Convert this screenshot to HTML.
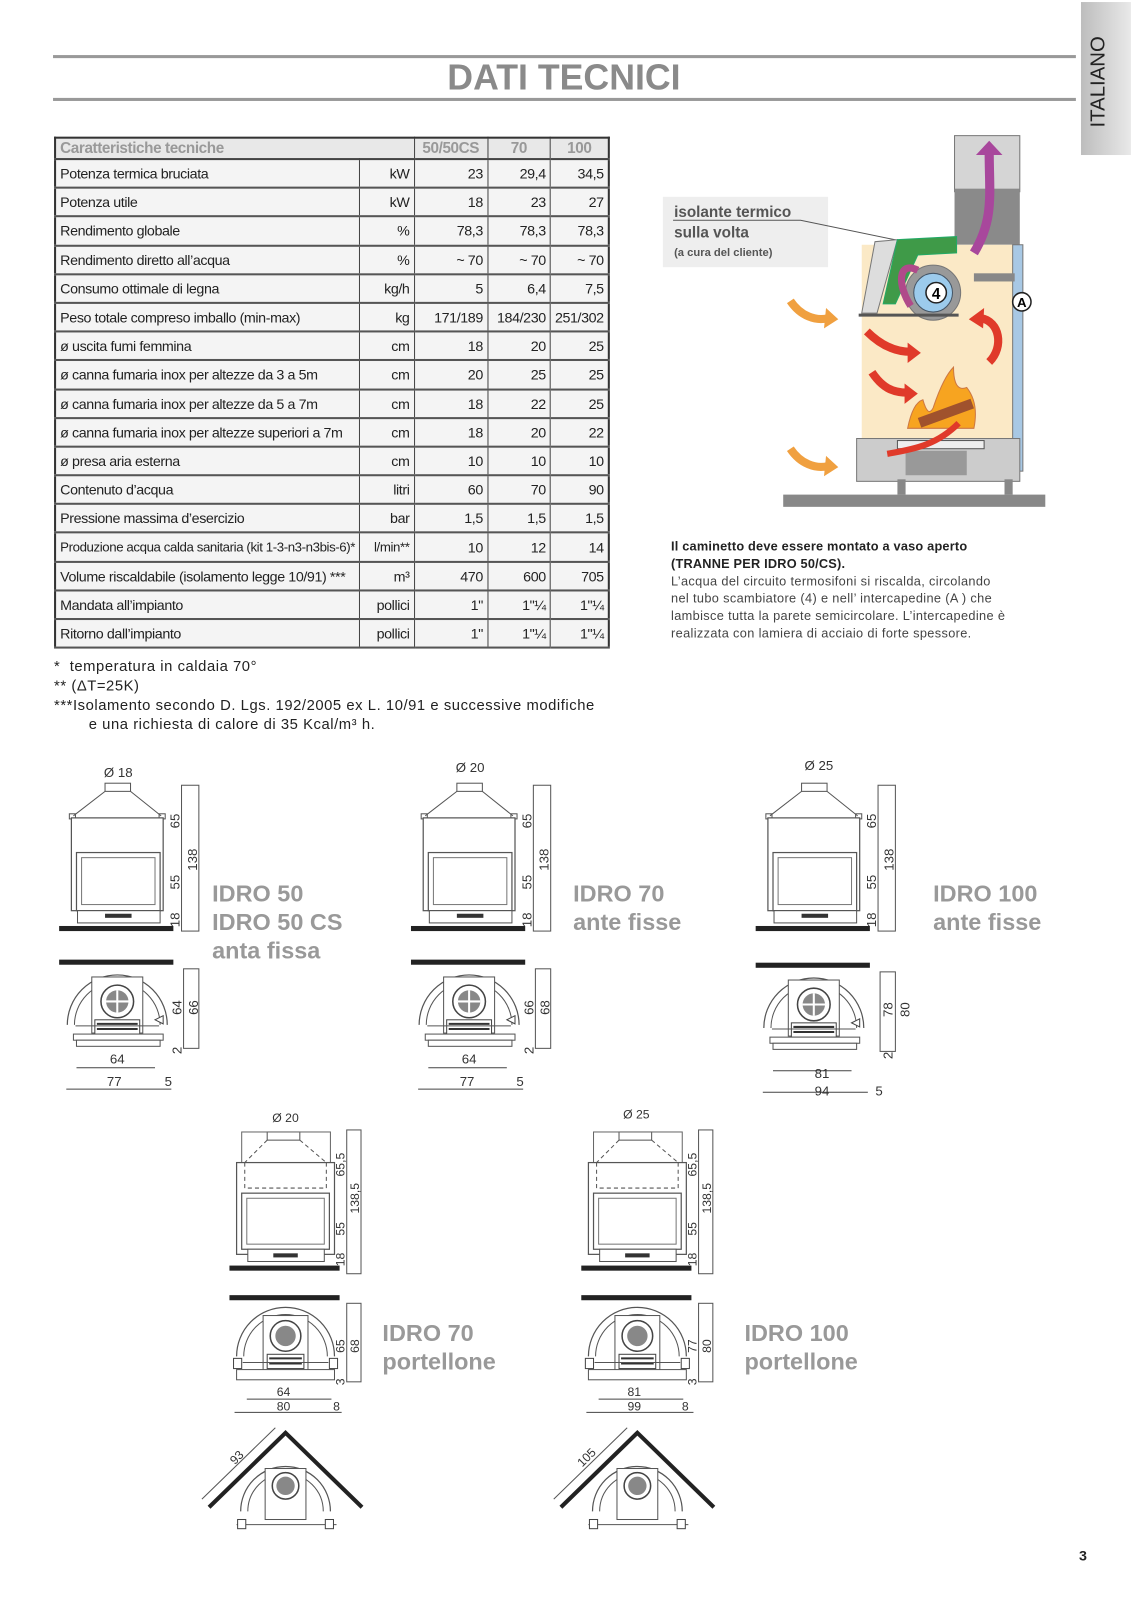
<!DOCTYPE html>
<html><head><meta charset="utf-8"><style>
html,body{margin:0;padding:0;background:#fff;}
#wrap{position:relative;width:1131px;height:1600px;overflow:hidden;}
#pg{position:absolute;left:0;top:0;width:1109px;height:1569px;transform:scale(1.0198);transform-origin:0 0;font-family:"Liberation Sans",sans-serif;}
.abs{position:absolute;}
table.t{position:absolute;left:53px;top:134px;width:545px;border-collapse:collapse;border:2px solid #333;font-size:14px;color:#222;letter-spacing:-0.4px;}
table.t td{height:26.2px;padding:0 4px;border-bottom:2px solid #555;border-left:1px solid #444;white-space:nowrap;background:#f4f4f4;}
table.t tr:first-child td{height:19px;color:#999;font-weight:bold;font-size:15px;border-bottom:2px solid #444;background:#e8e8e8;}
table.t td.n{text-align:right;}
table.t td.c{text-align:center;}
.lbl{position:absolute;font-weight:bold;color:#999;font-size:23px;line-height:28px;}
</style></head><body><div id="wrap"><div id="pg">

<svg class="abs" style="left:0;top:0" width="1109" height="1569" viewBox="0 0 1109 1569" font-family="Liberation Sans, sans-serif">
<defs>
<linearGradient id="tab" x1="0" x2="1"><stop offset="0" stop-color="#bdbdbd"/><stop offset="1" stop-color="#e9e9e9"/></linearGradient>
<g id="front">
 <rect x="103" y="768" width="25" height="8" fill="#fff" stroke="#555" stroke-width="1"/>
 <path d="M103 776 L72 800 M128 776 L158 800" stroke="#555" stroke-width="1" fill="none"/>
 <rect x="68" y="798" width="6" height="5" fill="none" stroke="#555"/><rect x="156" y="798" width="6" height="5" fill="none" stroke="#555"/>
 <rect x="70" y="802" width="90" height="91" fill="#fff" stroke="#555" stroke-width="1.2"/>
 <rect x="75" y="836" width="82" height="57" fill="none" stroke="#555" stroke-width="1.2"/>
 <rect x="80" y="841" width="72" height="46" fill="none" stroke="#777"/>
 <rect x="76" y="893" width="81" height="12" fill="#fff" stroke="#555"/>
 <rect x="103" y="896" width="26" height="4" fill="#333"/>
 <rect x="58" y="908" width="112" height="5" fill="#222"/>
 <rect x="178" y="770" width="17" height="143" fill="none" stroke="#555"/>
</g>
<g id="top">
 <rect x="58" y="941" width="112" height="5" fill="#222"/>
 <path d="M66 1005 A49 49 0 0 1 164 1005" fill="none" stroke="#555" stroke-width="1.2"/>
 <path d="M73 1005 A42 42 0 0 1 157 1005" fill="none" stroke="#555"/>
 <rect x="90" y="958" width="50" height="55" fill="#fff" stroke="#555"/>
 <circle cx="115" cy="982" r="16" fill="#fff" stroke="#444" stroke-width="1.5"/>
 <circle cx="115" cy="982" r="11" fill="#888"/>
 <path d="M115 971 V993 M104 982 H126" stroke="#fff" stroke-width="2"/>
 <rect x="93" y="1000" width="44" height="14" fill="#fff" stroke="#444"/>
 <path d="M95 1004 H135 M95 1009 H135" stroke="#333" stroke-width="2"/>
 <path d="M74 1006 H156" stroke="#555"/>
 <rect x="72" y="1014" width="88" height="6" fill="#fff" stroke="#555"/>
 <rect x="75" y="1020" width="82" height="6" fill="#fff" stroke="#555"/>
 <path d="M152 1000 l8 -4 v8 z" fill="#fff" stroke="#444"/>
 <rect x="180" y="950" width="15" height="78" fill="none" stroke="#555"/>
 <path d="M75 1047 H152 M65 1068 H168" stroke="#444"/>
</g>
<g id="front2">
 <rect x="262" y="1110" width="32" height="8" fill="#fff" stroke="#555"/>
 <rect x="237" y="1110" width="87" height="33" fill="none" stroke="#666"/>
 <path d="M262 1118 L240 1140 M294 1118 L320 1140" stroke="#555" stroke-dasharray="4 3" fill="none"/>
 <rect x="232" y="1140" width="96" height="90" fill="#fff" stroke="#555" stroke-width="1.2"/>
 <path d="M240 1140 V1165 H320 V1140" stroke="#555" stroke-dasharray="4 3" fill="none"/>
 <rect x="237" y="1170" width="86" height="55" fill="none" stroke="#555" stroke-width="1.2"/>
 <rect x="242" y="1175" width="76" height="45" fill="none" stroke="#777"/>
 <rect x="243" y="1225" width="75" height="12" fill="#fff" stroke="#555"/>
 <rect x="268" y="1229" width="24" height="4" fill="#333"/>
 <rect x="225" y="1241" width="108" height="5" fill="#222"/>
 <rect x="340" y="1108" width="14" height="141" fill="none" stroke="#555"/>
</g>
<g id="top2">
 <rect x="225" y="1270" width="108" height="5" fill="#222"/>
 <path d="M232 1330 A48 48 0 0 1 328 1330" fill="none" stroke="#555" stroke-width="1.2"/>
 <path d="M239 1330 A41 41 0 0 1 321 1330" fill="none" stroke="#555"/>
 <rect x="258" y="1290" width="44" height="55" fill="#fff" stroke="#555"/>
 <circle cx="280" cy="1310" r="15" fill="#fff" stroke="#444" stroke-width="1.5"/>
 <circle cx="280" cy="1310" r="10" fill="#888"/>
 <rect x="262" y="1328" width="36" height="14" fill="#fff" stroke="#444"/>
 <path d="M264 1332 H296 M264 1337 H296" stroke="#333" stroke-width="2"/>
 <path d="M238 1336 H322" stroke="#555"/>
 <rect x="229" y="1332" width="8" height="10" fill="#fff" stroke="#444"/><rect x="323" y="1332" width="8" height="10" fill="#fff" stroke="#444"/>
 <rect x="232" y="1343" width="96" height="10" fill="#fff" stroke="#555"/>
 <rect x="340" y="1278" width="14" height="77" fill="none" stroke="#555"/>
 <path d="M242 1372 H325 M230 1385 H335" stroke="#444"/>
</g>
<g id="roof">
 <path d="M205 1478 L280 1405 L355 1478" stroke="#222" stroke-width="4" fill="none"/>
 <path d="M198 1470 L270 1400" stroke="#555"/>
 <path d="M236 1482 A44 44 0 0 1 324 1482" fill="none" stroke="#555" stroke-width="1.2"/>
 <path d="M243 1482 A37 37 0 0 1 317 1482" fill="none" stroke="#555"/>
 <rect x="260" y="1440" width="40" height="50" fill="#fff" stroke="#555"/>
 <circle cx="280" cy="1457" r="13" fill="#fff" stroke="#444" stroke-width="1.5"/>
 <circle cx="280" cy="1457" r="9" fill="#888"/>
 <path d="M232 1495 H330" stroke="#555"/>
 <rect x="233" y="1490" width="8" height="9" fill="#fff" stroke="#444"/><rect x="319" y="1490" width="8" height="9" fill="#fff" stroke="#444"/>
</g>
</defs>

<rect x="52" y="54" width="1003" height="3" fill="#999"/>
<rect x="52" y="96" width="1003" height="3" fill="#999"/>
<text x="553" y="88" text-anchor="middle" font-size="35" font-weight="bold" fill="#8a8a8a">DATI TECNICI</text>
<rect x="1060" y="2" width="49" height="150" fill="url(#tab)"/>
<text transform="translate(1083,125) rotate(-90)" font-size="20" fill="#222">ITALIANO</text>

<rect x="650" y="193" width="162" height="69" fill="#eeeeee"/>
<text x="661" y="213" font-size="15" font-weight="bold" fill="#555">isolante termico</text>
<path d="M660 216 H785 L882 236" stroke="#555" fill="none"/>
<text x="661" y="233" font-size="15" font-weight="bold" fill="#555">sulla volta</text>
<text x="661" y="251" font-size="11" font-weight="bold" fill="#555">(a cura del cliente)</text>
<rect x="936" y="133" width="64" height="55" fill="#d5d5d5" stroke="#777"/>
<rect x="936" y="185" width="64" height="55" fill="#8a8a8a"/>
<rect x="845" y="240" width="150" height="225" fill="#fbe9c6"/>
<rect x="993" y="240" width="10" height="222" fill="#a8c8e4" stroke="#777"/>
<polygon points="858,237 880,235 860,307 845,307" fill="#ddd" stroke="#777"/>
<polygon points="880,235 938,232 938,248 900,250 878,298 866,298" fill="#3f9a48" stroke="#2a6"/>
<circle cx="915" cy="287" r="27" fill="#999" stroke="#777"/>
<circle cx="915" cy="287" r="19" fill="#9ccbec" stroke="#456"/>
<circle cx="918" cy="287" r="10" fill="#fff" stroke="#222" stroke-width="1.5"/>
<text x="918" y="293" text-anchor="middle" font-size="15" font-weight="bold">4</text>
<circle cx="1002" cy="296" r="9" fill="#fff" stroke="#222" stroke-width="1.5"/>
<text x="1002" y="301" text-anchor="middle" font-size="13" font-weight="bold">A</text>
<rect x="955" y="268" width="40" height="8" fill="#888"/>
<path d="M842 309 H940" stroke="#555" stroke-width="3"/>
<rect x="840" y="430" width="160" height="42" fill="#ccc" stroke="#777"/>
<rect x="880" y="432" width="85" height="8" fill="#eee" stroke="#555"/>
<rect x="888" y="442" width="60" height="24" fill="#999"/>
<rect x="768" y="485" width="257" height="12" fill="#888"/>
<rect x="880" y="470" width="8" height="15" fill="#888"/><rect x="985" y="470" width="8" height="15" fill="#888"/>
<path d="M955 248 C975 215 970 190 970 150" stroke="#a8479c" stroke-width="9" fill="none"/>
<polygon points="957,152 970,138 983,152" fill="#a8479c"/>
<path d="M900 265 C880 255 880 280 893 300" stroke="#b04a8a" stroke-width="7" fill="none"/>
<path d="M775 295 C785 310 800 315 812 312" stroke="#f0a040" stroke-width="8" fill="none"/><polygon points="810,302 822,313 808,322" fill="#f0a040"/>
<path d="M775 440 C785 455 800 460 812 457" stroke="#f0a040" stroke-width="8" fill="none"/><polygon points="810,447 822,458 808,467" fill="#f0a040"/>
<path d="M850 325 C865 340 880 345 893 345" stroke="#e03a2a" stroke-width="8" fill="none"/><polygon points="890,336 903,346 890,356" fill="#e03a2a"/>
<path d="M855 365 C865 380 875 385 890 385" stroke="#e03a2a" stroke-width="8" fill="none"/><polygon points="887,376 900,386 887,396" fill="#e03a2a"/>
<path d="M970 355 C985 340 980 315 962 312" stroke="#e03a2a" stroke-width="8" fill="none"/><polygon points="965,302 950,313 964,322" fill="#e03a2a"/>
<path d="M890 420 Q895 395 905 392 Q910 410 915 400 Q925 370 935 360 Q935 385 948 380 Q960 395 955 420 Z" fill="#f7a420" stroke="#c74" />
<rect x="900" y="400" width="55" height="10" fill="#a0522d" transform="rotate(-20 928 405)"/>
<path d="M870 445 C900 440 920 435 940 415" stroke="#e03a2a" stroke-width="6" fill="none"/>

<use href="#front"/><use href="#top"/>
<use href="#front" transform="translate(345,0)"/><use href="#top" transform="translate(345,0)"/>
<use href="#front" transform="translate(683,0)"/><use href="#top" transform="translate(683,3)"/>
<g font-size="13" fill="#333" text-anchor="middle">
<text x="116" y="762">Ø 18</text><text x="461" y="757">Ø 20</text><text x="803" y="755">Ø 25</text>
<g id="vl"><text transform="translate(176,805) rotate(-90)">65</text><text transform="translate(193,843) rotate(-90)">138</text><text transform="translate(176,865) rotate(-90)">55</text><text transform="translate(176,902) rotate(-90)">18</text></g>
<use href="#vl" transform="translate(345,0)"/><use href="#vl" transform="translate(683,0)"/>
<text transform="translate(178,988) rotate(-90)">64</text><text transform="translate(194,988) rotate(-90)">66</text><text transform="translate(178,1030) rotate(-90)">2</text>
<text x="115" y="1043">64</text><text x="112" y="1065">77</text><text x="165" y="1065">5</text>
<text transform="translate(523,988) rotate(-90)">66</text><text transform="translate(539,988) rotate(-90)">68</text><text transform="translate(523,1030) rotate(-90)">2</text>
<text x="460" y="1043">64</text><text x="458" y="1065">77</text><text x="510" y="1065">5</text>
<text transform="translate(875,990) rotate(-90)">78</text><text transform="translate(892,990) rotate(-90)">80</text><text transform="translate(875,1035) rotate(-90)">2</text>
<text x="806" y="1057">81</text><text x="806" y="1074">94</text><text x="862" y="1074">5</text>
</g>

<use href="#front2"/><use href="#top2"/><use href="#roof"/>
<use href="#front2" transform="translate(345,0)"/><use href="#top2" transform="translate(345,0)"/><use href="#roof" transform="translate(345,0)"/>
<g font-size="12" fill="#333" text-anchor="middle">
<text x="280" y="1100">Ø 20</text><text x="624" y="1097">Ø 25</text>
<g id="vl2"><text transform="translate(338,1142) rotate(-90)">65,5</text><text transform="translate(352,1175) rotate(-90)">138,5</text><text transform="translate(338,1205) rotate(-90)">55</text><text transform="translate(338,1235) rotate(-90)">18</text></g>
<use href="#vl2" transform="translate(345,0)"/>
<text transform="translate(338,1320) rotate(-90)">65</text><text transform="translate(352,1320) rotate(-90)">68</text><text transform="translate(338,1355) rotate(-90)">3</text>
<text x="278" y="1369">64</text><text x="278" y="1383">80</text><text x="330" y="1383">8</text>
<text transform="translate(683,1320) rotate(-90)">77</text><text transform="translate(697,1320) rotate(-90)">80</text><text transform="translate(683,1355) rotate(-90)">3</text>
<text x="622" y="1369">81</text><text x="622" y="1383">99</text><text x="672" y="1383">8</text>
<text transform="translate(235,1432) rotate(-45)">93</text><text transform="translate(578,1432) rotate(-45)">105</text>
</g>
<text x="1062" y="1530" font-size="14" font-weight="bold" text-anchor="middle" fill="#222">3</text>
</svg>

<table class="t">
<tr><td colspan="2">Caratteristiche tecniche</td><td class="c">50/50CS</td><td class="c">70</td><td class="c">100</td></tr>
<tr><td style="width:289px">Potenza termica bruciata</td><td class="n" style="width:47px">kW</td><td class="n" style="width:65px">23</td><td class="n" style="width:54px">29,4</td><td class="n">34,5</td></tr>
<tr><td>Potenza utile</td><td class="n">kW</td><td class="n">18</td><td class="n">23</td><td class="n">27</td></tr>
<tr><td>Rendimento globale</td><td class="n">%</td><td class="n">78,3</td><td class="n">78,3</td><td class="n">78,3</td></tr>
<tr><td>Rendimento diretto all’acqua</td><td class="n">%</td><td class="n">~ 70</td><td class="n">~ 70</td><td class="n">~ 70</td></tr>
<tr><td>Consumo ottimale di legna</td><td class="n">kg/h</td><td class="n">5</td><td class="n">6,4</td><td class="n">7,5</td></tr>
<tr><td>Peso totale compreso imballo (min-max)</td><td class="n">kg</td><td class="n">171/189</td><td class="n">184/230</td><td class="n">251/302</td></tr>
<tr><td>ø uscita fumi femmina</td><td class="n">cm</td><td class="n">18</td><td class="n">20</td><td class="n">25</td></tr>
<tr><td>ø canna fumaria inox per altezze da 3 a 5m</td><td class="n">cm</td><td class="n">20</td><td class="n">25</td><td class="n">25</td></tr>
<tr><td>ø canna fumaria inox per altezze da 5 a 7m</td><td class="n">cm</td><td class="n">18</td><td class="n">22</td><td class="n">25</td></tr>
<tr><td>ø canna fumaria inox per altezze superiori a 7m</td><td class="n">cm</td><td class="n">18</td><td class="n">20</td><td class="n">22</td></tr>
<tr><td>ø presa aria esterna</td><td class="n">cm</td><td class="n">10</td><td class="n">10</td><td class="n">10</td></tr>
<tr><td>Contenuto d’acqua</td><td class="n">litri</td><td class="n">60</td><td class="n">70</td><td class="n">90</td></tr>
<tr><td>Pressione massima d’esercizio</td><td class="n">bar</td><td class="n">1,5</td><td class="n">1,5</td><td class="n">1,5</td></tr>
<tr><td style="font-size:13px">Produzione acqua calda sanitaria (kit 1-3-n3-n3bis-6)*</td><td class="n" style="font-size:13px">l/min**</td><td class="n">10</td><td class="n">12</td><td class="n">14</td></tr>
<tr><td>Volume riscaldabile (isolamento legge 10/91) ***</td><td class="n">m³</td><td class="n">470</td><td class="n">600</td><td class="n">705</td></tr>
<tr><td>Mandata all’impianto</td><td class="n">pollici</td><td class="n">1"</td><td class="n">1"¼</td><td class="n">1"¼</td></tr>
<tr><td>Ritorno dall’impianto</td><td class="n">pollici</td><td class="n">1"</td><td class="n">1"¼</td><td class="n">1"¼</td></tr>
</table>

<div class="abs" style="left:53px;top:645px;font-size:14.5px;line-height:19px;color:#222;letter-spacing:0.55px;white-space:nowrap;">
* &nbsp;temperatura in caldaia 70°<br>** (ΔT=25K)<br>***Isolamento secondo D. Lgs. 192/2005 ex L. 10/91 e successive modifiche<br><span style="padding-left:34px">e una richiesta di calore di 35 Kcal/m³ h.</span></div>

<div class="abs" style="left:658px;top:528px;width:360px;font-size:12.5px;line-height:17px;color:#222;white-space:nowrap;">
<b style="letter-spacing:0.2px">Il caminetto deve essere montato a vaso aperto<br>(TRANNE PER IDRO 50/CS).</b><br>
<span style="color:#444;letter-spacing:0.35px">L’acqua del circuito termosifoni si riscalda, circolando<br>nel tubo scambiatore (4) e nell’ intercapedine (A ) che<br>lambisce tutta la parete semicircolare. L’intercapedine è<br>realizzata con lamiera di acciaio di forte spessore.</span></div>

<div class="lbl" style="left:208px;top:862px;">IDRO 50<br>IDRO 50 CS<br>anta fissa</div>
<div class="lbl" style="left:562px;top:862px;">IDRO 70<br>ante fisse</div>
<div class="lbl" style="left:915px;top:862px;">IDRO 100<br>ante fisse</div>
<div class="lbl" style="left:375px;top:1293px;">IDRO 70<br>portellone</div>
<div class="lbl" style="left:730px;top:1293px;">IDRO 100<br>portellone</div>

</div></div></body></html>
